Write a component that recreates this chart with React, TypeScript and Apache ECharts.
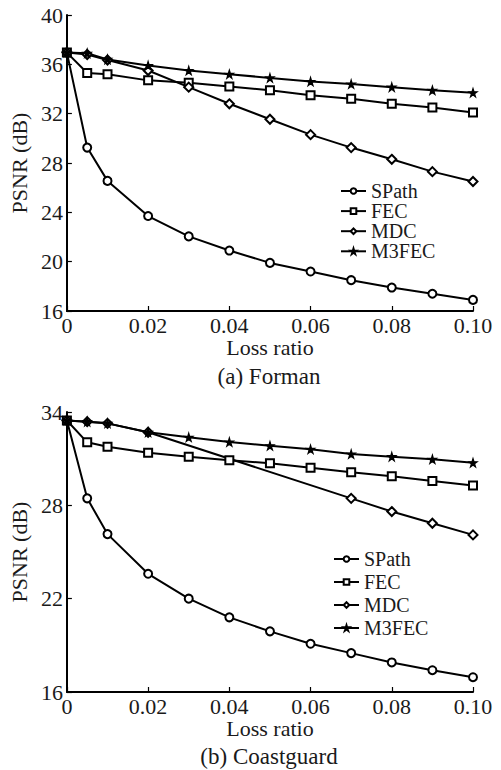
import React, { useEffect, useRef } from "react";
import * as echarts from "echarts";

const lossRatio = [0, 0.005, 0.01, 0.02, 0.03, 0.04, 0.05, 0.06, 0.07, 0.08, 0.09, 0.1];
const xTicks = [0, 0.02, 0.04, 0.06, 0.08, 0.1];
const yTicksA = [16, 20, 24, 28, 32, 36, 40];
const yTicksB = [16, 22, 28, 34];
const seriesNames = ["SPath", "FEC", "MDC", "M3FEC"];

// (a) Forman
const spathA = [36.95, 29.25, 26.55, 23.7, 22.05, 20.9, 19.9, 19.2, 18.5, 17.9, 17.4, 16.9];
const fecA = [36.95, 35.3, 35.2, 34.7, 34.5, 34.2, 33.9, 33.5, 33.2, 32.8, 32.5, 32.1];
const mdcA = [36.95, 36.8, 36.35, 35.5, 34.15, 32.8, 31.55, 30.3, 29.25, 28.3, 27.3, 26.5];
const m3fecA = [36.95, 36.9, 36.4, 35.9, 35.5, 35.2, 34.9, 34.6, 34.4, 34.15, 33.9, 33.7];

// (b) Coastguard
const spathB = [33.45, 28.45, 26.15, 23.6, 22.0, 20.8, 19.9, 19.1, 18.5, 17.9, 17.4, 16.95];
const fecB = [33.45, 32.05, 31.77, 31.38, 31.13, 30.9, 30.7, 30.42, 30.12, 29.87, 29.57, 29.27];
const mdcB = [33.45, 33.38, 33.27, 32.7, null, null, null, null, 28.45, 27.6, 26.85, 26.1];
const m3fecB = [33.45, 33.38, 33.27, 32.7, 32.37, 32.07, 31.83, 31.6, 31.3, 31.13, 30.96, 30.74];

const captions = ["(a) Forman", "(b) Coastguard"];

const STAR = "path://M50,0 L61,35 L98,35 L68,57 L79,91 L50,70 L21,91 L32,57 L2,35 L39,35 Z";
const FONT = "Liberation Serif";
const TXT = "#1a1a1a";

const symbols: Record<string, any> = {
  SPath: { symbol: "emptyCircle", symbolSize: 8 },
  FEC: { symbol: "emptyRect", symbolSize: 8 },
  MDC: { symbol: "emptyDiamond", symbolSize: 9 },
  M3FEC: { symbol: STAR, symbolSize: 8 },
};

function pairs(vals: (number | null)[]) {
  return lossRatio.map((x, i) => [x, vals[i]]);
}

export default function App() {
  const ref = useRef<HTMLDivElement>(null);
  useEffect(() => {
    const chart = echarts.init(ref.current!, null, { renderer: "svg" });
    const xAxisBase = (gridIndex: number) => ({
      type: "value",
      gridIndex,
      min: 0,
      max: 0.1,
      name: "Loss ratio",
      nameLocation: "middle",
      nameGap: 20,
      nameTextStyle: { fontFamily: FONT, fontSize: 22, color: TXT, verticalAlign: "top" },
      axisLine: { show: true, onZero: false, lineStyle: { color: "#000", width: 2 } },
      axisTick: { show: true, inside: true, length: 5, customValues: xTicks, lineStyle: { color: "#000", width: 1.2 } },
      axisLabel: {
        customValues: xTicks,
        margin: 3,
        fontFamily: FONT,
        fontSize: 22,
        color: TXT,
        formatter: (v: number) => (v === 0 ? "0" : v.toFixed(2)),
      },
      splitLine: { show: false },
    });
    const yAxisBase = (gridIndex: number, min: number, max: number, ticks: number[]) => ({
      type: "value",
      gridIndex,
      min,
      max,
      name: "PSNR (dB)",
      nameLocation: "middle",
      nameGap: 30,
      nameTextStyle: { fontFamily: FONT, fontSize: 22, color: TXT },
      axisLine: { show: true, onZero: false, lineStyle: { color: "#000", width: 2 } },
      axisTick: { show: true, inside: true, length: 5, customValues: ticks, lineStyle: { color: "#000", width: 1.2 } },
      axisLabel: { customValues: ticks, margin: 4, fontFamily: FONT, fontSize: 22, color: TXT },
      splitLine: { show: false },
    });
    const mk = (name: string, vals: (number | null)[], idx: number) => ({
      name,
      type: "line",
      xAxisIndex: idx,
      yAxisIndex: idx,
      data: pairs(vals),
      connectNulls: true,
      ...symbols[name],
      showAllSymbol: true,
      color: "#000",
      lineStyle: { color: "#000", width: 2 },
      itemStyle: { color: "#000", borderColor: "#000", borderWidth: 1.3 },
    });
    const legendBase = (left: number, top: number, gap: number) => ({
      orient: "vertical",
      left,
      top,
      itemGap: gap,
      itemWidth: 25,
      itemHeight: 7,
      data: seriesNames,
      selectedMode: false,
      textStyle: { fontFamily: FONT, fontSize: 20, color: TXT },
    });
    chart.setOption({
      animation: false,
      backgroundColor: "#fff",
      textStyle: { fontFamily: FONT },
      grid: [
        { left: 66, right: 28, top: 15, bottom: 459 },
        { left: 66, right: 28, top: 412, bottom: 78 },
      ],
      xAxis: [xAxisBase(0), xAxisBase(1)],
      yAxis: [yAxisBase(0, 16, 40, yTicksA), yAxisBase(1, 16, 34, yTicksB)],
      legend: [legendBase(335, 176, 0.1), legendBase(328, 544, 3.0)],
      series: [
        mk("SPath", spathA, 0),
        mk("FEC", fecA, 0),
        mk("MDC", mdcA, 0),
        mk("M3FEC", m3fecA, 0),
        mk("SPath", spathB, 1),
        mk("FEC", fecB, 1),
        mk("MDC", mdcB, 1),
        mk("M3FEC", m3fecB, 1),
      ],
      graphic: [
        {
          type: "text",
          x: 269,
          y: 376,
          style: { text: captions[0], fontFamily: FONT, fontSize: 23, fill: TXT, textAlign: "center", textVerticalAlign: "middle" },
        },
        {
          type: "text",
          x: 269,
          y: 756,
          style: { text: captions[1], fontFamily: FONT, fontSize: 23, fill: TXT, textAlign: "center", textVerticalAlign: "middle" },
        },
      ],
    });
    return () => chart.dispose();
  }, []);
  return <div ref={ref} style={{ position: "fixed", left: 0, top: 0, width: 501, height: 770 }} />;
}
